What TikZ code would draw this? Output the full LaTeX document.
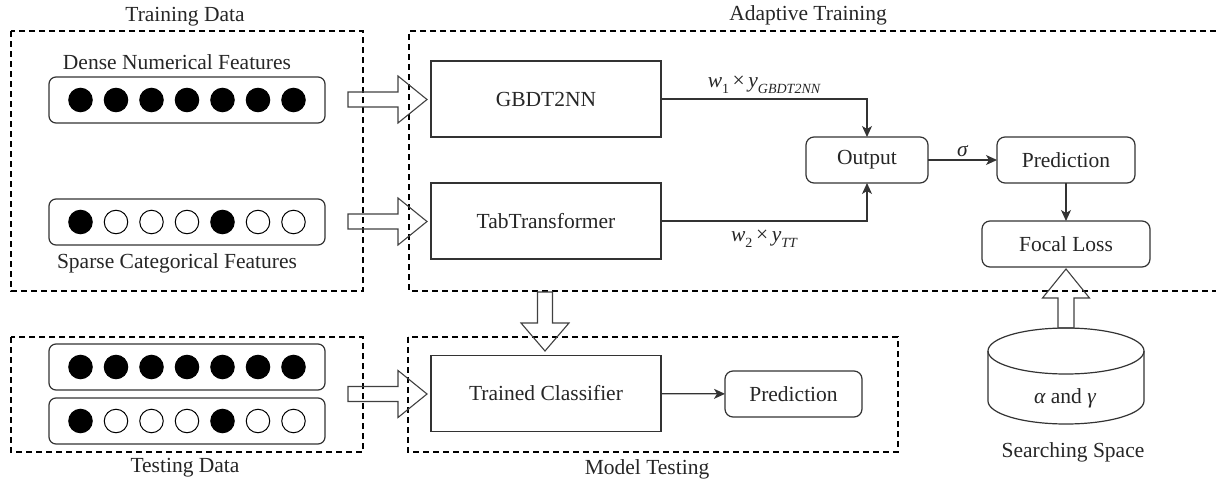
\documentclass[tikz,border=0pt]{standalone}
\usepackage{fontspec}
\setmainfont{Liberation Serif}
\usetikzlibrary{arrows.meta,calc}

% lowered, smaller text used for subscripts in the weight labels
\newcommand{\lowtext}[1]{\raisebox{-0.3em}{\fontsize{14}{14}\selectfont #1}}

\begin{document}
\begin{tikzpicture}[x=1pt,y=-1pt,
  font=\fontsize{21.5}{25}\selectfont,
  every node/.style={inner sep=0pt, outer sep=0pt, text=black!85},
  linecol/.style={draw=black!80, line width=1.2pt},
  groupbox/.style={draw=black, line width=1.8pt, dash pattern=on 6pt off 4pt},
  model/.style={linecol, rectangle, minimum width=230pt, minimum height=76pt},
  rbox/.style={linecol, rectangle, rounded corners=8pt, minimum height=46pt},
  featbar/.style={linecol, rectangle, rounded corners=7pt, minimum width=276pt, minimum height=46pt},
  dotfull/.style={circle, draw=black, line width=1pt, minimum size=23.5pt, fill=black},
  dotempty/.style={circle, draw=black, line width=1pt, minimum size=23.5pt, fill=white},
  fatarrow/.style={draw=black!75, line width=1.1pt, line join=miter},
  flow/.style={linecol, -{Stealth[length=11pt,width=10pt,inset=3pt]}}
]
\useasboundingbox (0,0) rectangle (1216,479);

% ---- group frames ----
\draw[groupbox] (11,31) rectangle (363,291);
\draw[groupbox] (1216,31) -- (409,31) -- (409,291) -- (1216,291);
\draw[groupbox] (11,337) rectangle (363,452);
\draw[groupbox] (408,337) rectangle (898,452);

% ---- group titles ----
\node (tTrain) at (185,17) {Training Data};
\node (tAdapt) at (808,15) {Adaptive Training};
\node (tTest)  at (185,468) {Testing Data};
\node (tModel) at (647,469) {Model Testing};
\node (tSearch) at (1073,452) {Searching Space};

% ---- feature vectors ----
\node (dLabel) at (177,62) {Dense Numerical Features};
\node (sLabel) at (177,263) {Sparse Categorical Features};
\node[featbar] (denseTr)  at (187,100) {};
\node[featbar] (sparseTr) at (187,222) {};
\node[featbar] (denseTe)  at (187,367) {};
\node[featbar] (sparseTe) at (187,421) {};

\foreach \i in {0,...,6}{
  \node[dotfull] (dTr\i) at ($(denseTr.center)+(-106.5+35.5*\i,0)$) {};
  \node[dotfull] (dTe\i) at ($(denseTe.center)+(-106.5+35.5*\i,0)$) {};
}
\foreach \i/\s in {0/dotfull,1/dotempty,2/dotempty,3/dotempty,4/dotfull,5/dotempty,6/dotempty}{
  \node[\s] (sTr\i) at ($(sparseTr.center)+(-106.5+35.5*\i,0)$) {};
  \node[\s] (sTe\i) at ($(sparseTe.center)+(-106.5+35.5*\i,0)$) {};
}

% ---- models and outputs ----
\node[model] (gbdt) at (546,99)  {GBDT2NN};
\node[model] (tab)  at (546,221) {TabTransformer};
\node[model] (clf)  at (546,393.5) {Trained Classifier};
\node[rbox, minimum width=122pt] (out)   at (867,160)  {Output};
\node[rbox, minimum width=138pt] (pred)  at (1066,160) {Prediction};
\node[rbox, minimum width=168pt] (focal) at (1066,244) {Focal Loss};
\node[rbox, minimum width=137pt] (pred2) at (793.5,394) {Prediction};

% ---- searching space (cylinder) ----
\draw[linecol, fill=white] (988,351) -- (988,401)
  arc[start angle=180, end angle=0, x radius=78, y radius=23] -- (1144,351);
\draw[linecol] (1066,351) ellipse[x radius=78, y radius=23];
\coordinate (cylTop) at (1066,328);
\node (space) at (1065,398) {{\itshape α} and {\itshape γ}};

% ---- connectors ----
\draw[flow] (gbdt.east) -| node[pos=0.25, above=5pt]
  {{\itshape w}\lowtext{1}\,×\,{\itshape y}\lowtext{\itshape GBDT2NN}} (out.north);
\draw[flow] (tab.east) -| node[pos=0.25, below=9pt]
  {{\itshape w}\lowtext{2}\,×\,{\itshape y}\lowtext{\itshape TT}} (out.south);
\draw[flow] (out) -- node[above=3pt] {\itshape σ} (pred);
\draw[flow] (pred) -- (focal);
\draw[flow] (clf) -- (pred2);

% ---- block arrows ----
\draw[fatarrow] (348,99.5) ++(0,-7.5) -- ++(50,0) -- ++(0,-16) -- ++(29,23.5)
  -- ++(-29,23.5) -- ++(0,-16) -- ++(-50,0) -- cycle;
\draw[fatarrow] (348,221.5) ++(0,-7.5) -- ++(50,0) -- ++(0,-16) -- ++(29,23.5)
  -- ++(-29,23.5) -- ++(0,-16) -- ++(-50,0) -- cycle;
\draw[fatarrow] (348,394) ++(0,-7.5) -- ++(50,0) -- ++(0,-16) -- ++(29,23.5)
  -- ++(-29,23.5) -- ++(0,-16) -- ++(-50,0) -- cycle;
\draw[fatarrow] (545,292) ++(-7.5,0) -- ++(0,31) -- ++(-16.5,0) -- ++(24,28)
  -- ++(24,-28) -- ++(-16.5,0) -- ++(0,-31) -- cycle;
\draw[fatarrow] (cylTop) ++(-8,0) -- ++(0,-30) -- ++(-15.5,0) -- ++(23.5,-29)
  -- ++(23.5,29) -- ++(-15.5,0) -- ++(0,30) -- cycle;
\end{tikzpicture}
\end{document}
